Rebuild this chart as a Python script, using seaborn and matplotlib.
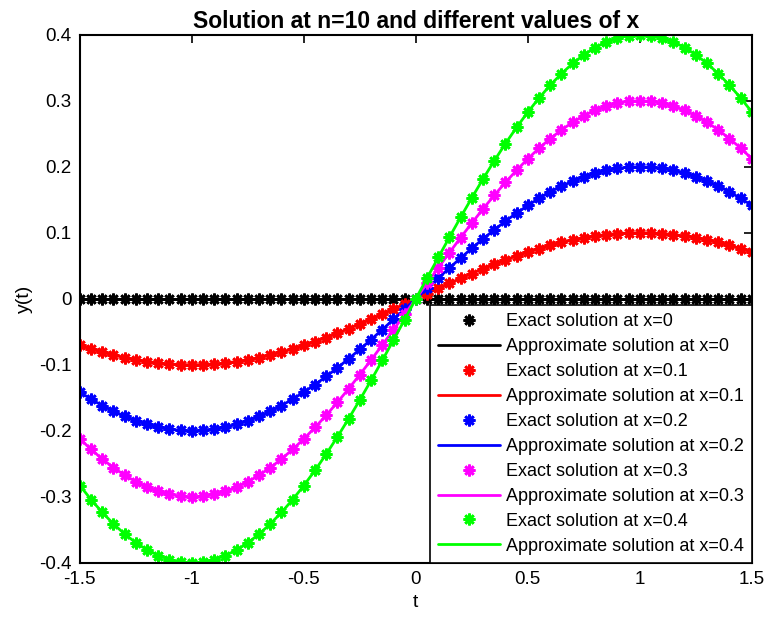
import matplotlib
matplotlib.use("Agg")
import matplotlib.pyplot as plt
import seaborn as sns
import numpy as np
import pandas as pd

# t grid, step 0.05 from -1.5 to 1.5
t = [round(-1.5 + 0.05 * i, 2) for i in range(61)]

# unit shape of the solution curve (value at x=1)
shape = [-0.7071, -0.7604, -0.8090, -0.8526, -0.8910, -0.9239, -0.9511, -0.9724, -0.9877, -0.9969,
         -1.0000, -0.9969, -0.9877, -0.9724, -0.9511, -0.9239, -0.8910, -0.8526, -0.8090, -0.7604,
         -0.7071, -0.6494, -0.5878, -0.5225, -0.4540, -0.3827, -0.3090, -0.2334, -0.1564, -0.0785,
         0.0,
         0.0785, 0.1564, 0.2334, 0.3090, 0.3827, 0.4540, 0.5225, 0.5878, 0.6494, 0.7071,
         0.7604, 0.8090, 0.8526, 0.8910, 0.9239, 0.9511, 0.9724, 0.9877, 0.9969, 1.0000,
         0.9969, 0.9877, 0.9724, 0.9511, 0.9239, 0.8910, 0.8526, 0.8090, 0.7604, 0.7071]

x_values = [0, 0.1, 0.2, 0.3, 0.4]
colors = ["#000000", "#ff0000", "#0000ff", "#ff00ff", "#00ff00"]

sns.set_style("white")
plt.rcParams["font.family"] = ["Liberation Sans", "DejaVu Sans"]
plt.rcParams["text.color"] = "black"
plt.rcParams["axes.labelcolor"] = "black"
plt.rcParams["xtick.color"] = "black"
plt.rcParams["ytick.color"] = "black"

fig = plt.figure(figsize=(7.68, 6.31), dpi=100)
ax = fig.add_axes([0.104, 0.108, 0.875, 0.837])

for xv, c in zip(x_values, colors):
    df = pd.DataFrame({"t": t, "y": [xv * s for s in shape]})
    sns.lineplot(data=df, x="t", y="y", ax=ax, color=c, linestyle="", marker=(8, 2, 0),
                 markersize=8.5, markeredgewidth=1.9, markeredgecolor=c,
                 label=f"Exact solution at x={xv:g}")
    sns.lineplot(data=df, x="t", y="y", ax=ax, color=c, linewidth=2,
                 label=f"Approximate solution at x={xv:g}")

ax.set_xlim(-1.5, 1.5)
ax.set_ylim(-0.4, 0.4)
ax.set_xticks([-1.5, -1, -0.5, 0, 0.5, 1, 1.5])
ax.set_xticklabels(["-1.5", "-1", "-0.5", "0", "0.5", "1", "1.5"])
ax.set_yticks(np.arange(-0.4, 0.41, 0.1))
ax.set_yticklabels(["-0.4", "-0.3", "-0.2", "-0.1", "0", "0.1", "0.2", "0.3", "0.4"])
ax.tick_params(direction="in", length=6, width=1.2, labelsize=13.5, top=True, right=True, pad=6)
for sp in ax.spines.values():
    sp.set_visible(True)
    sp.set_color("black")
    sp.set_linewidth(1.5)

ax.set_xlabel("t", fontsize=14)
ax.set_ylabel("y(t)", fontsize=14)
ax.set_title("Solution at n=10 and different values of x", fontsize=16.5, fontweight="bold", pad=5)

leg = ax.legend(loc="lower right", fontsize=13, frameon=True, fancybox=False, borderaxespad=0,
                framealpha=1, handlelength=3.4, labelspacing=0.44, borderpad=0.45,
                handletextpad=0.35)
leg.get_frame().set_edgecolor("black")
leg.get_frame().set_linewidth(1.2)

fig.savefig("out.png", dpi=100)
